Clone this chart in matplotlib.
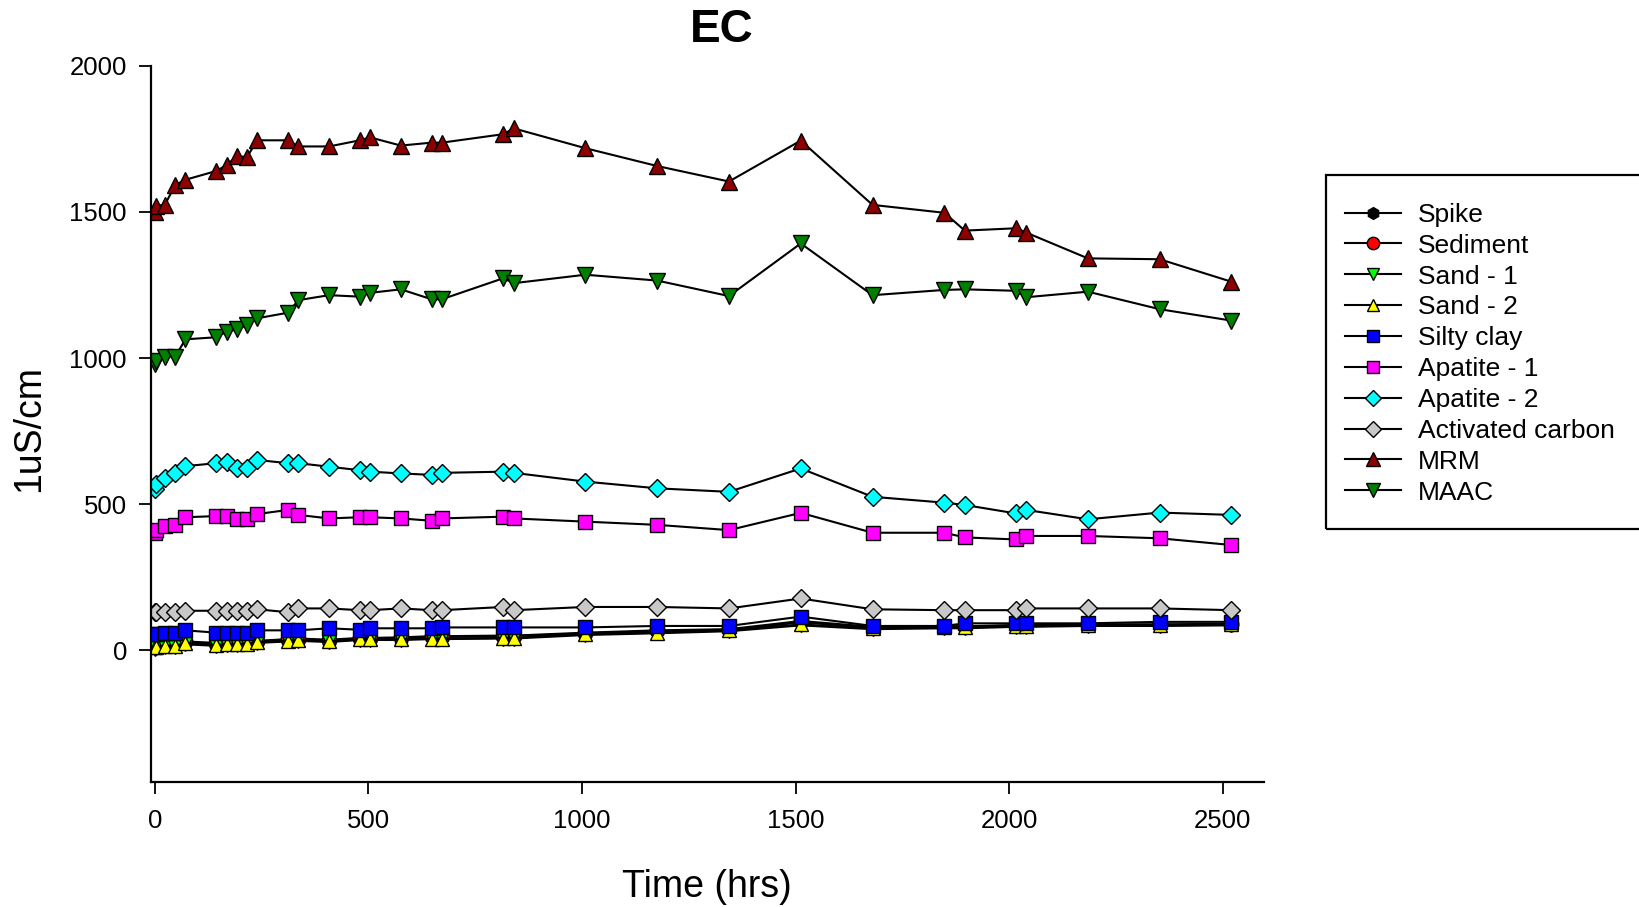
import matplotlib
matplotlib.use("Agg")
import matplotlib.pyplot as plt
from matplotlib.patches import Rectangle

plt.rcParams['font.family'] = ['Liberation Sans', 'DejaVu Sans']

# ---- data ----
time_hrs = [0, 3, 24, 48, 72, 144, 168, 192, 216, 240, 312, 336, 408, 480, 504, 576,
            648, 672, 816, 840, 1008, 1176, 1344, 1512, 1680, 1848, 1896, 2016, 2040,
            2184, 2352, 2520]

spike = [15, 15, 18, 18, 28, 20, 22, 22, 25, 30, 35, 38, 33, 40, 40, 40,
         45, 45, 48, 48, 58, 65, 70, 95, 78, 80, 80, 85, 85, 88, 88, 90]
sediment = [20, 20, 22, 22, 30, 25, 25, 28, 28, 32, 38, 40, 36, 42, 42, 44,
            48, 48, 50, 50, 60, 68, 72, 100, 80, 82, 82, 86, 86, 88, 88, 90]
sand_1 = [5, 8, 10, 12, 20, 15, 18, 18, 20, 25, 30, 32, 28, 35, 35, 35,
          38, 38, 40, 40, 52, 58, 65, 85, 72, 75, 75, 80, 80, 83, 83, 85]
sand_2 = [10, 12, 15, 15, 25, 18, 20, 20, 22, 28, 32, 35, 30, 37, 37, 37,
          40, 40, 42, 42, 55, 60, 68, 88, 75, 78, 78, 82, 82, 85, 85, 88]
silty_clay = [55, 55, 58, 58, 68, 60, 60, 60, 60, 68, 68, 68, 75, 70, 75, 75,
              75, 78, 78, 78, 78, 83, 83, 115, 83, 83, 92, 92, 92, 92, 97, 97]
apatite_1 = [400, 410, 425, 429, 455, 459, 459, 448, 448, 466, 480, 463, 451, 455, 455, 451,
             443, 451, 457, 451, 440, 429, 411, 470, 402, 402, 386, 379, 391, 391, 383, 360]
apatite_2 = [550, 570, 590, 605, 630, 640, 645, 622, 622, 651, 640, 640, 628, 616, 611, 605,
             600, 607, 611, 607, 577, 554, 542, 622, 525, 505, 497, 468, 480, 448, 471, 463]
activated_carbon = [130, 130, 130, 130, 135, 135, 135, 135, 135, 140, 130, 143, 143, 137, 137, 143,
                    137, 137, 148, 137, 148, 148, 143, 177, 140, 137, 137, 137, 143, 143, 143, 137]
mrm = [1500, 1520, 1525, 1592, 1610, 1640, 1660, 1690, 1688, 1745, 1745, 1724, 1724, 1745, 1755, 1727,
       1737, 1737, 1766, 1786, 1718, 1657, 1604, 1744, 1524, 1497, 1436, 1444, 1429, 1341, 1338, 1261]
maac = [980, 990, 1005, 1005, 1064, 1071, 1090, 1098, 1113, 1136, 1155, 1198, 1215, 1210, 1223, 1235,
        1201, 1201, 1273, 1256, 1285, 1265, 1212, 1392, 1215, 1233, 1235, 1230, 1208, 1227, 1167, 1128]

series_names = ["Spike", "Sediment", "Sand - 1", "Sand - 2", "Silty clay", "Apatite - 1",
                "Apatite - 2", "Activated carbon", "MRM", "MAAC"]
series_values = [spike, sediment, sand_1, sand_2, silty_clay, apatite_1, apatite_2,
                 activated_carbon, mrm, maac]
series_colors = ["#000000", "#FF0000", "#00FF00", "#FFFF00", "#0000FF", "#FF00FF",
                 "#00FFFF", "#C8C8C8", "#8B0000", "#008000"]
series_markers = ["h", "o", "v", "^", "s", "s", "D", "D", "^", "v"]
series_msizes = [10, 10.5, 10, 10, 10.5, 10.5, 9, 9, 11.5, 11.5]

# ---- figure ----
W, H = 1639, 907
fig = plt.figure(figsize=(W / 100, H / 100), dpi=100)
ax = fig.add_axes([151.3 / W, 1 - 781.7 / H, (1263.5 - 151.3) / W, (781.7 - 65.8) / H])

for name, vals, col, mk, ms in zip(series_names, series_values, series_colors,
                                   series_markers, series_msizes):
    ax.plot(time_hrs, vals, color="black", lw=1.5, marker=mk, ms=ms,
            markerfacecolor=col, markeredgecolor="black", markeredgewidth=1.0,
            label=name)

ax.set_xlim(-8, 2595)
ax.set_ylim(-450, 2000)
ax.set_xticks([0, 500, 1000, 1500, 2000, 2500])
ax.set_yticks([0, 500, 1000, 1500, 2000])
for s in ["top", "right"]:
    ax.spines[s].set_visible(False)
for s in ["left", "bottom"]:
    ax.spines[s].set_linewidth(1.6)
ax.tick_params(axis="both", direction="out", length=8.5, width=1.3, labelsize=18.5)
ax.tick_params(axis="x", pad=11)
ax.tick_params(axis="y", pad=9)

ax.set_xlabel("Time (hrs)", fontsize=27, va="center")
ax.xaxis.set_label_coords(0.4996, -0.147)
ax.set_ylabel("1uS/cm", fontsize=27, va="center")
ax.yaxis.set_label_coords(-0.110, 0.493)

fig.text(722 / W, 1 - 30 / H, "EC", ha="center", va="center", fontsize=33,
         fontweight="bold")

leg = ax.legend(loc="upper left", bbox_to_anchor=(1325.5 / W, 1 - 183 / H),
                bbox_transform=fig.transFigure, frameon=False, fontsize=19,
                borderaxespad=0, borderpad=0.75, labelspacing=0.26,
                handlelength=2.1, handletextpad=0.64, markerscale=0.85)

fig.patches.append(Rectangle((1325.5 / W, 1 - 529 / H), 0.3, (529 - 174.6) / H,
                             transform=fig.transFigure, fill=False, lw=1.6,
                             edgecolor="black", clip_on=False))

fig.savefig("out.png", dpi=100)
